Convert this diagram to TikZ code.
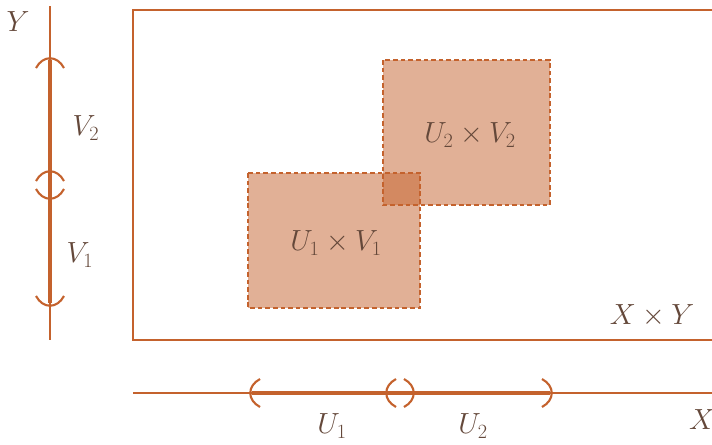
\documentclass[tikz,border=0pt]{standalone}
\usepackage{tikz}
\usetikzlibrary{positioning, calc}
\definecolor{mainc}{RGB}{196,98,45}
\definecolor{labelc}{RGB}{100,72,58}

\begin{document}
\begin{tikzpicture}[x=0.03cm, y=-0.03cm,
    axis/.style={mainc, line width=0.9pt},
    interval/.style={mainc, line width=3.5pt},
    paren/.style={mainc, line width=1.8pt},
    region/.style={draw=mainc, dashed, line width=1.5pt, dash pattern=on 4pt off 2.5pt, fill=mainc, fill opacity=0.5},
    lbl/.style={text=labelc, font=\fontsize{25}{29}\selectfont, inner sep=0pt}
  ]
    \clip (0,0) rectangle (712,444);
    \useasboundingbox (0,0) rectangle (712,444);

    % Product space
    \draw[mainc, line width=1.6pt] (133,10) rectangle (730,340);
    \node[lbl] (xy) at (652,316) {$X\times Y$};

    % Axes
    \coordinate (ytop) at (50,6);
    \coordinate (ybot) at (50,340);
    \coordinate (xleft) at (133,393);
    \coordinate (xright) at (730,393);
    \draw[axis] (ytop) -- (ybot);
    \draw[axis] (xleft) -- (xright);
    \node[lbl] (ylab) at (18,22) {$Y$};
    \node[lbl] (xlab) at (702,420) {$X$};

    % Intervals on Y
    \draw[interval] (50,60) -- (50,303);
    \draw[paren] (36,68) .. controls (43,55) and (57,55) .. (64,68);
    \draw[paren] (36,189) .. controls (43,202) and (57,202) .. (64,189);
    \draw[paren] (36,181) .. controls (43,168) and (57,168) .. (64,181);
    \draw[paren] (36,296) .. controls (43,309) and (57,309) .. (64,296);
    \node[lbl] (v2) at (86,128) {$V_2$};
    \node[lbl] (v1) at (80,255) {$V_1$};

    % Intervals on X
    \draw[interval] (252,393) -- (550,393);
    \draw[paren] (260,379) .. controls (247,386) and (247,400) .. (260,407);
    \draw[paren] (396,379) .. controls (383,386) and (383,400) .. (396,407);
    \draw[paren] (404,379) .. controls (417,386) and (417,400) .. (404,407);
    \draw[paren] (542,379) .. controls (555,386) and (555,400) .. (542,407);
    \node[lbl] (u1) at (332,426) {$U_1$};
    \node[lbl] (u2) at (473,426) {$U_2$};

    % Open boxes
    \draw[region] (248,173) rectangle (420,308);
    \draw[region] (383,60) rectangle (550,205);
    \node[lbl] (box1) at (336,243) {$U_1\times V_1$};
    \node[lbl] (box2) at (470,135) {$U_2\times V_2$};
  \end{tikzpicture}
\end{document}
